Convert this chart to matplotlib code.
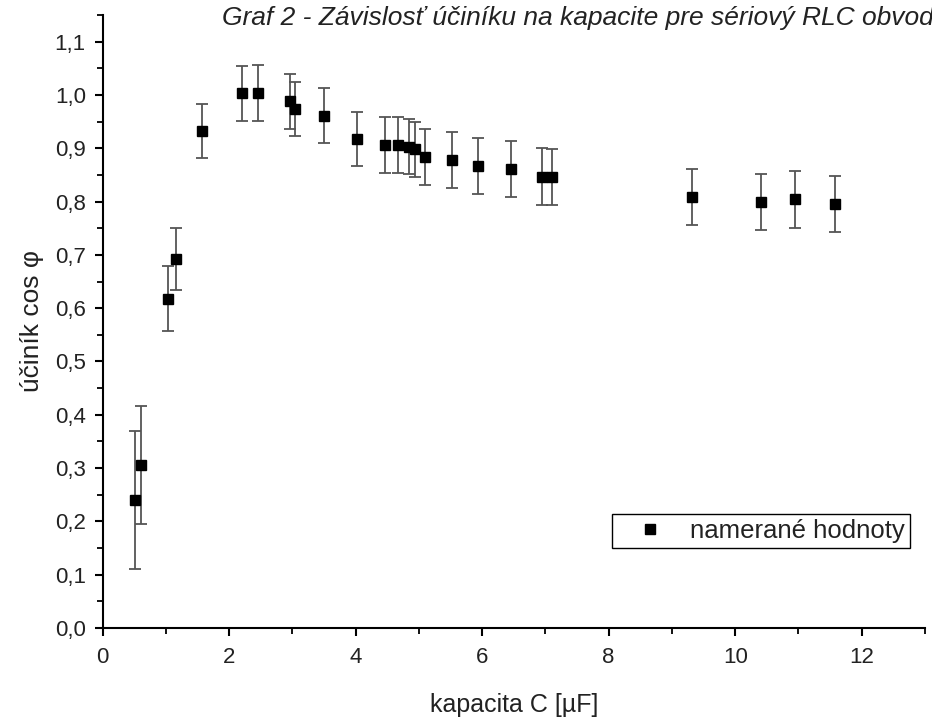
import matplotlib
matplotlib.use("Agg")
import matplotlib.pyplot as plt
from matplotlib.lines import Line2D
from matplotlib.ticker import MultipleLocator, FuncFormatter

# data
C_uF = [0.51, 0.61, 1.04, 1.16, 1.58, 2.21, 2.45, 2.97, 3.05, 3.50, 4.03,
        4.47, 4.67, 4.85, 4.94, 5.09, 5.52, 5.94, 6.46, 6.94, 7.10,
        9.31, 10.41, 10.94, 11.58]
cos_phi = [0.240, 0.306, 0.618, 0.693, 0.932, 1.003, 1.004, 0.988, 0.974, 0.961, 0.917,
           0.906, 0.906, 0.903, 0.898, 0.884, 0.878, 0.867, 0.861, 0.847, 0.846,
           0.809, 0.799, 0.804, 0.795]
err = [0.130, 0.110, 0.061, 0.058, 0.051, 0.051, 0.053, 0.052, 0.051, 0.052, 0.051,
       0.052, 0.052, 0.052, 0.052, 0.052, 0.053, 0.053, 0.053, 0.053, 0.053,
       0.053, 0.053, 0.053, 0.053]

title = "Graf 2 - Závislosť účiníku na kapacite pre sériový RLC obvod"
xlabel = "kapacita C [µF]"
ylabel = "účiník cos φ"
legend_label = "namerané hodnoty"

plt.rcParams['font.family'] = ['Liberation Sans', 'DejaVu Sans']

W, H = 932, 721
fig = plt.figure(figsize=(W / 100, H / 100), dpi=100)
ax = fig.add_axes([102.5 / W, 1 - 628 / H, (925 - 102.5) / W, (628 - 15) / H])

ax.errorbar(C_uF, cos_phi, yerr=err, fmt='s', color='black', markersize=7.5,
            ecolor='#555555', elinewidth=1.3, capsize=4.5, capthick=1.3,
            zorder=3)

ax.set_xlim(0, 13)
ax.set_ylim(0, 1.15)
ax.xaxis.set_major_locator(MultipleLocator(2))
ax.xaxis.set_minor_locator(MultipleLocator(1))
ax.yaxis.set_major_locator(MultipleLocator(0.1))
ax.yaxis.set_minor_locator(MultipleLocator(0.05))
ax.yaxis.set_major_formatter(FuncFormatter(lambda v, p: f"{v:.1f}".replace('.', ',')))
ax.xaxis.set_major_formatter(FuncFormatter(lambda v, p: f"{v:.0f}"))

for s in ['top', 'right']:
    ax.spines[s].set_visible(False)
for s in ['left', 'bottom']:
    ax.spines[s].set_linewidth(1.5)

ax.tick_params(axis='both', which='major', direction='out', length=6, width=1.5,
               labelsize=16, colors='black', labelcolor='#222222')
ax.tick_params(axis='both', which='minor', direction='out', length=4, width=1.3)
ax.tick_params(axis='x', pad=8)
ax.tick_params(axis='y', pad=6)

ax.set_xlabel(xlabel, fontsize=18, color='#222222', labelpad=18)
ax.set_ylabel(ylabel, fontsize=19, color='#222222', labelpad=8)

fig.text(222 / W, 1 - 25 / H, title, fontsize=19, style='italic',
         color='#222222', ha='left', va='baseline')

handle = Line2D([], [], marker='s', linestyle='none', color='black', markersize=7.5)
leg = ax.legend([handle], [legend_label], loc='center', bbox_to_anchor=(0.801, 0.158),
                fontsize=18.5, frameon=True, fancybox=False, edgecolor='black',
                framealpha=1, handlelength=2.5, handletextpad=0.34, borderpad=0.2,
                borderaxespad=0)
leg.get_frame().set_linewidth(1.0)
for t in leg.get_texts():
    t.set_color('#222222')

fig.savefig("out.png", dpi=100)
